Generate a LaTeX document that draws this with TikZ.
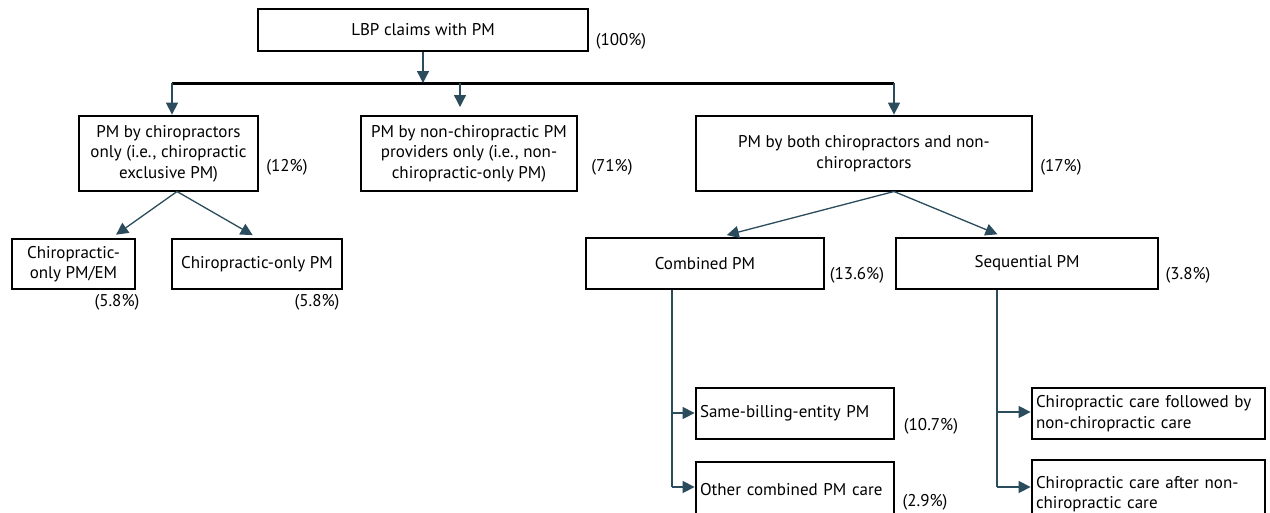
\documentclass[tikz,border=0pt]{standalone}
\usepackage{fontspec}
\setmainfont{PT Sans}
\usetikzlibrary{arrows.meta,calc}
\definecolor{arr}{HTML}{2B4C5C}
\begin{document}
\begin{tikzpicture}[x=1pt,y=-1pt,
  txt/.style={font=\fontsize{17}{20.5}\selectfont},
  box/.style={txt,draw=black,line width=2.8pt,inner sep=3pt,align=center},
  lbox/.style={txt,draw=black,line width=2.8pt,inner xsep=4pt,inner ysep=3pt,align=left},
  pct/.style={txt,inner sep=0pt},
  arrowline/.style={draw=arr,line width=1.3pt,-{Triangle[width=12pt,length=12pt]}},
  plainline/.style={draw=arr,line width=1.3pt},
  bar/.style={draw=black,line width=3pt}]
\clip (0,0) rectangle (1270,512);
\fill[white] (0,0) rectangle (1270,512);

% boxes
\node[box,minimum width=330,minimum height=42] (top) at (423,30) {LBP claims with PM};
\node[box,minimum width=179,minimum height=75] (b1) at (168.5,153.5) {PM by chiropractors\\only (i.e., chiropractic\\exclusive PM)};
\node[box,minimum width=216,minimum height=75] (b2) at (469,153.5) {PM by non-chiropractic PM\\providers only (i.e., non-\\chiropractic-only PM)};
\node[box,minimum width=336,minimum height=75] (b3) at (864,153.5) {PM by both chiropractors and non-\\chiropractors};
\node[box,minimum width=123,minimum height=50] (c1) at (73.5,264) {Chiropractic-\\only PM/EM};
\node[box,minimum width=170,minimum height=50] (c2) at (257,264) {Chiropractic-only PM};
\node[box,minimum width=238,minimum height=51] (comb) at (705,263.5) {Combined PM};
\node[box,minimum width=262,minimum height=51] (seq) at (1027,263.5) {Sequential PM};
\node[lbox,text width=190,minimum height=51] (same) at (795,413.5) {Same-billing-entity PM};
\node[lbox,text width=190,minimum height=56] (other) at (795,490) {Other combined PM care};
\node[lbox,text width=225,minimum height=51] (follow) at (1148.5,413.5) {\fontsize{17}{19}\selectfont Chiropractic care followed by\\non-chiropractic care};
\node[lbox,text width=225,minimum height=68] (after) at (1148.5,494) {\fontsize{17}{19}\selectfont Chiropractic care after non-\\chiropractic care};

% percentages
\node[pct] (p0) at (621,41) {(100\%)};
\node[pct] (p1) at (287,167) {(12\%)};
\node[pct] (p2) at (612,167) {(71\%)};
\node[pct] (p3) at (1061,167) {(17\%)};
\node[pct] (p4) at (117,302) {(5.8\%)};
\node[pct] (p5) at (317,302) {(5.8\%)};
\node[pct] (p6) at (857,275) {(13.6\%)};
\node[pct] (p7) at (1188,275) {(3.8\%)};
\node[pct] (p8) at (931,426) {(10.7\%)};
\node[pct] (p9) at (925,502) {(2.9\%)};

% connectors
\coordinate (barL) at (172,83);
\coordinate (barR) at (894,83);
\coordinate (midtip) at (460,107);
\coordinate (b1s) at (177,191.5);
\coordinate (b3s) at (894,191.5);
\draw[bar] (barL) -- (barR);
\draw[arrowline] (top.south) -- (top.south |- barL);
\draw[arrowline] (barL) -- (barL |- b1.north);
\draw[arrowline] (midtip |- barL) -- (midtip);
\draw[arrowline] (barR) -- (barR |- b3.north);

\draw[arrowline,shorten >=5pt] (b1s) -- ($(c1.north)+(38.5,0)$);
\draw[arrowline,shorten >=5pt] (b1s) -- (c2.north);
\draw[arrowline,shorten >=6pt] (b3s) -- ($(comb.north)+(16,0)$);
\draw[arrowline,shorten >=6pt] (b3s) -- ($(seq.north)+(-24,0)$);

\coordinate (cb1) at (672,413);
\coordinate (cb2) at (672,487);
\draw[plainline] (comb.south -| cb1) -- (cb2);
\draw[arrowline] (cb1) -- (cb1 -| same.west);
\draw[arrowline] (cb2) -- (cb2 -| other.west);

\coordinate (sb1) at (997,412);
\coordinate (sb2) at (997,487);
\draw[plainline] (seq.south -| sb1) -- (sb2);
\draw[arrowline] (sb1) -- (sb1 -| follow.west);
\draw[arrowline] (sb2) -- (sb2 -| after.west);
\end{tikzpicture}
\end{document}
